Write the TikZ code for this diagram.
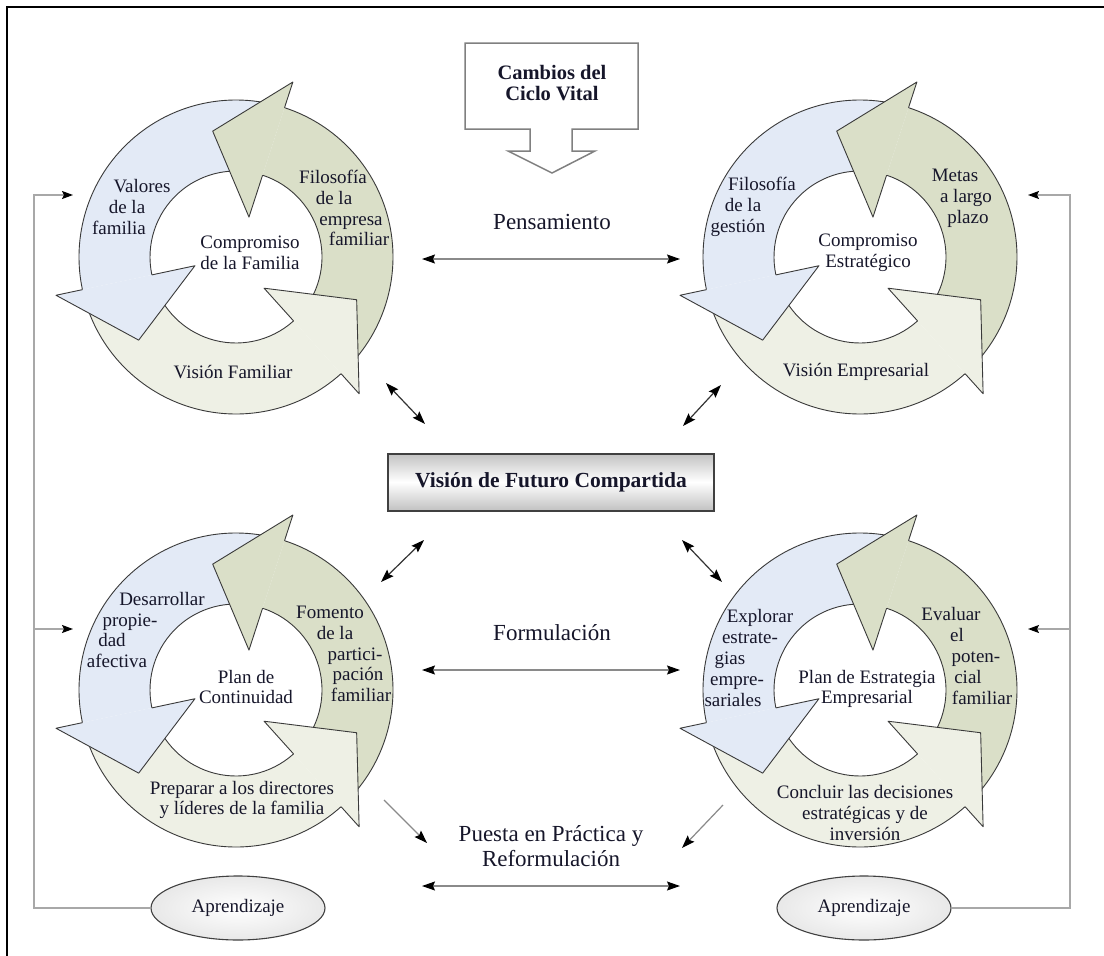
\documentclass[tikz,border=0pt]{standalone}
\usepackage{fontspec}
\setmainfont{Liberation Serif}
\usetikzlibrary{arrows.meta,shapes.geometric,shadings}

\definecolor{wblue}{HTML}{E3EAF6}
\definecolor{wgreen}{HTML}{DADFC8}
\definecolor{wlight}{HTML}{EEF0E5}
\definecolor{ink}{HTML}{16162A}
\definecolor{rim}{HTML}{3A3A3A}
\definecolor{wire}{HTML}{8A8A8A}
\definecolor{railgray}{HTML}{A8A8A8}

% three circular arrows around a centre: bodies first, heads on top
\newcommand{\drawwheel}[1]{%
  \begin{scope}[shift={#1}, x=1pt, y=1pt]
    \foreach \a/\col in {192/wblue, 312/wlight, 72/wgreen}{
      \pgfmathsetmacro\s{\a-114}
      \fill[fill=\col] (\s:157) arc[start angle=\s, end angle=\a, radius=157]
        -- (\a:86) arc[start angle=\a, end angle=\s, radius=86] -- cycle;
      \draw[wedge] (\s:157) arc[start angle=\s, end angle=\a, radius=157];
      \draw[wedge] (\a:86) arc[start angle=\a, end angle=\s, radius=86];
    }
    \foreach \a/\col in {192/wblue, 312/wlight, 72/wgreen}{
      \pgfmathsetmacro\t{\a+28.5}
      \fill[fill=\col] (\a:184) -- (\t:128) -- (\a:42) -- cycle;
      \draw[wedge] (\a:157) -- (\a:184) -- (\t:128) -- (\a:42) -- (\a:86);
    }
  \end{scope}}

% shift one line of a centred label sideways by half of #1 (pt)
\newcommand{\shl}[2]{\hspace*{#1pt}#2}

\tikzset{
  wedge/.style={draw=rim, line width=0.9pt, line join=round},
  lbl/.style={align=center, inner sep=0pt, text=ink, font=\fontsize{19}{20.8}\selectfont},
  stage/.style={align=center, inner sep=0pt, text=ink, font=\fontsize{23}{25}\selectfont},
  dbl/.style={draw=wire, line width=1.2pt, {Stealth[length=13pt,width=9pt,inset=2pt,color=black]}-{Stealth[length=13pt,width=9pt,inset=2pt,color=black]}},
  dbldark/.style={dbl, draw=black!80},
  one/.style={draw=wire, line width=1.2pt, -{Stealth[length=13pt,width=9pt,inset=2pt,color=black]}},
  rail/.style={draw=railgray, line width=1.4pt},
  railin/.style={rail, -{Stealth[length=11pt,width=8pt,inset=2pt,color=black]}},
  learn/.style={ellipse, draw=black!75, line width=1.1pt, inner color=white, outer color=black!9,
    minimum width=174pt, minimum height=64pt, text=ink, font=\fontsize{19}{21}\selectfont},
}

\begin{document}
\begin{tikzpicture}[x=1pt, y=-1pt]
\useasboundingbox (0,0) rectangle (1104,956);
\fill[white] (0,0) rectangle (1104,956);

% outer frame (top and left edges)
\draw[line width=2.4pt, black] (7,956) -- (7,7) -- (1104,7);

% the four cycles
\drawwheel{(236,257)}
\drawwheel{(860,257)}
\drawwheel{(236,690)}
\drawwheel{(860,690)}

% cycle 1
\node[lbl] (c1a) at (128,207) {\shl{28}{Valores}\\\shl{-2}{de la}\\\shl{-18}{familia}};
\node[lbl] (c1b) at (345,208) {\shl{-24}{Filosofía}\\\shl{-22}{de la}\\\shl{12}{empresa}\\\shl{28}{familiar}};
\node[lbl] (c1c) at (250,253) {Compromiso\\de la Familia};
\node[lbl] (c1d) at (233,372) {Visión Familiar};

% cycle 2
\node[lbl] (c2a) at (748,207) {\shl{28}{Filosofía}\\\shl{-10}{de la}\\\shl{-20}{gestión}};
\node[lbl] (c2b) at (963,198) {\shl{-16}{Metas}\\\shl{6}{a largo}\\\shl{10}{plazo}};
\node[lbl] (c2c) at (868,253) {Compromiso\\Estratégico};
\node[lbl] (c2d) at (856,372) {Visión Empresarial};

% cycle 3
\node[lbl] (c3a) at (130,630) {\shl{64}{Desarrollar}\\\shl{0}{propie-}\\\shl{-36}{dad}\\\shl{-26}{afectiva}};
\node[lbl] (c3b) at (348,654) {\shl{-36}{Fomento}\\\shl{-26}{de la}\\\shl{14}{partici-}\\\shl{20}{pación}\\\shl{26}{familiar}};
\node[lbl] (c3c) at (246,687) {Plan de\\Continuidad};
\node[lbl] (c3d) at (242,800) {Preparar a los directores\\y líderes de la familia};

% cycle 4
\node[lbl] (c4a) at (742,658) {\shl{36}{Explorar}\\\shl{16}{estrate-}\\\shl{-24}{gias}\\\shl{-10}{empre-}\\\shl{-18}{sariales}};
\node[lbl] (c4b) at (967,656) {\shl{-32}{Evaluar}\\\shl{-20}{el}\\\shl{18}{poten-}\\\shl{2}{cial}\\\shl{30}{familiar}};
\node[lbl] (c4c) at (867,689) {Plan de Estrategia\\Empresarial};
\node[lbl] (c4d) at (865,813) {Concluir las decisiones\\estratégicas y de\\inversión};

% life-cycle callout
\draw[draw=black!50, line width=1.5pt, fill=white, line join=miter]
  (465,43) -- (638,43) -- (638,129) -- (572,129) -- (572,151) -- (595,151)
  -- (552,173) -- (508,151) -- (530,151) -- (530,129) -- (465,129) -- cycle;
\node[lbl, font=\bfseries\fontsize{20.5}{21.5}\selectfont] (cambios) at (552,83) {Cambios del\\Ciclo Vital};

% stage titles
\node[stage] (pens) at (552,222) {Pensamiento};
\node[stage] (form) at (552,633) {Formulación};
\node[stage] (puesta) at (551,846) {Puesta en Práctica y\\Reformulación};

% shared vision box
\node[draw=black!75, line width=2pt, top color=black!24, bottom color=black!24, middle color=white,
  minimum width=326pt, minimum height=57pt, inner sep=0pt, text=ink,
  font=\bfseries\fontsize{21.5}{23}\selectfont] (vision) at (551,482) {Visión de Futuro Compartida};

% learning ellipses
\node[learn] (apL) at (238,908) {Aprendizaje};
\node[learn] (apR) at (864,908) {Aprendizaje};

% connector ends
\coordinate (pL) at (422,259);  \coordinate (pR) at (680,259);
\coordinate (fL) at (422,670);  \coordinate (fR) at (680,670);
\coordinate (rL) at (422,886);  \coordinate (rR) at (680,886);
\coordinate (d1a) at (386,383); \coordinate (d1b) at (425,424);
\coordinate (d2a) at (721,385); \coordinate (d2b) at (683,426);
\coordinate (d3a) at (424,540); \coordinate (d3b) at (381,582);
\coordinate (d4a) at (682,540); \coordinate (d4b) at (722,582);
\coordinate (e1a) at (384,800); \coordinate (e1b) at (427,843);
\coordinate (e2a) at (723,805); \coordinate (e2b) at (682,848);
\coordinate (railLt) at (34,195);   \coordinate (railLm) at (34,629);
\coordinate (inL1) at (73,195);     \coordinate (inL2) at (73,629);
\coordinate (railRt) at (1070,195); \coordinate (railRm) at (1070,629);
\coordinate (inR1) at (1028,195);   \coordinate (inR2) at (1028,629);

% horizontal exchanges
\draw[dbl] (pL) -- (pR);
\draw[dbl] (fL) -- (fR);
\draw[dbl] (rL) -- (rR);

% links with the shared vision
\draw[dbldark] (d1a) -- (d1b);
\draw[dbldark] (d2a) -- (d2b);
\draw[dbldark] (d3a) -- (d3b);
\draw[dbldark] (d4a) -- (d4b);

% towards implementation
\draw[one] (e1a) -- (e1b);
\draw[one] (e2a) -- (e2b);

% learning feedback rails
\draw[railin] (apL.west) -| (railLt) -- (inL1);
\draw[railin] (railLm) -- (inL2);
\draw[railin] (apR.east) -| (railRt) -- (inR1);
\draw[railin] (railRm) -- (inR2);

\end{tikzpicture}
\end{document}
